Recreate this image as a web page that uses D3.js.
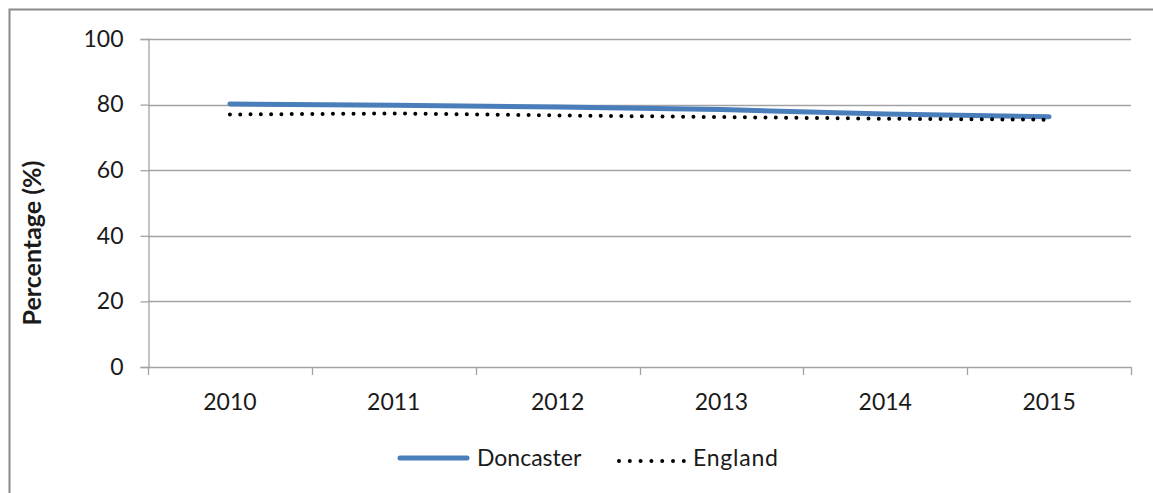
<!DOCTYPE html>
<html>
<head>
<meta charset="utf-8">
<script src="https://cdn.jsdelivr.net/npm/d3@7"></script>
<style>
  html, body { margin: 0; padding: 0; background: #fff; }
  svg { display: block; }
  text { font-family: Lato, "Open Sans", "Liberation Sans", sans-serif; fill: #1a1a1a; }
</style>
</head>
<body>
<svg id="chart" width="1153" height="493"></svg>
<script>
// Years shown on the category axis
const years = ["2010", "2011", "2012", "2013", "2014", "2015"];
// Percentage values per area
const doncaster = [80.2, 79.8, 79.3, 78.5, 77.1, 76.3];
const england = [77.0, 77.3, 76.7, 76.2, 75.7, 75.4];
// Value axis ticks
const yTicks = [0, 20, 40, 60, 80, 100];
const seriesNames = ["Doncaster", "England"];

const svg = d3.select("#chart");
const W = 1153, H = 493;
const plot = { left: 148, right: 1131, top: 39, bottom: 367 };
const axisColor = "#a3a3a3";

// Outer chart frame
svg.append("rect")
  .attr("x", 9.5).attr("y", 9.5)
  .attr("width", W + 20).attr("height", H + 20)
  .attr("fill", "#fff")
  .attr("stroke", "#8a8a8a").attr("stroke-width", 2);

const x = d3.scaleBand().domain(years).range([plot.left, plot.right]);
const y = d3.scaleLinear().domain([0, 100]).range([plot.bottom, plot.top]);
const cx = d => x(d) + x.bandwidth() / 2;

// Horizontal gridlines
svg.append("g")
  .selectAll("line")
  .data(yTicks.filter(t => t > 0))
  .join("line")
  .attr("x1", plot.left).attr("x2", plot.right)
  .attr("y1", d => Math.round(y(d)) + 0.5).attr("y2", d => Math.round(y(d)) + 0.5)
  .attr("stroke", axisColor).attr("stroke-width", 1.3);

// Value axis
const yAxis = svg.append("g")
  .attr("transform", `translate(${plot.left + 0.5},0)`)
  .call(d3.axisLeft(y).tickValues(yTicks).tickSize(8).tickPadding(17));
yAxis.select(".domain").attr("stroke", axisColor).attr("stroke-width", 1.3);
yAxis.selectAll(".tick line").attr("stroke", axisColor).attr("stroke-width", 1.3);
yAxis.selectAll(".tick text")
  .attr("font-size", 23).attr("fill", "#1a1a1a")
  .attr("font-family", "Lato, 'Open Sans', sans-serif");

// Category axis: ticks sit on the band boundaries
const bounds = years.map(d => x(d)).concat([plot.right]);
const xg = svg.append("g");
xg.append("line")
  .attr("x1", plot.left).attr("x2", plot.right)
  .attr("y1", plot.bottom + 0.5).attr("y2", plot.bottom + 0.5)
  .attr("stroke", axisColor).attr("stroke-width", 1.3);
xg.selectAll("line.tk")
  .data(bounds)
  .join("line").attr("class", "tk")
  .attr("x1", d => Math.round(d) + 0.5).attr("x2", d => Math.round(d) + 0.5)
  .attr("y1", plot.bottom).attr("y2", plot.bottom + 8)
  .attr("stroke", axisColor).attr("stroke-width", 1.3);
xg.selectAll("text")
  .data(years)
  .join("text")
  .attr("x", d => cx(d)).attr("y", 410)
  .attr("text-anchor", "middle")
  .attr("font-size", 23)
  .text(d => d);

// Axis title
svg.append("text")
  .attr("transform", `translate(41,243) rotate(-90)`)
  .attr("text-anchor", "middle")
  .attr("font-size", 25)
  .attr("font-weight", "bold")
  .text("Percentage (%)");

const line = d3.line().x((d, i) => cx(years[i])).y(d => y(d));

// Doncaster series
svg.append("path")
  .datum(doncaster)
  .attr("d", line)
  .attr("fill", "none")
  .attr("stroke", "#4a7ebb")
  .attr("stroke-width", 5)
  .attr("stroke-linecap", "round");

// England series (round dots)
svg.append("path")
  .datum(england)
  .attr("d", line)
  .attr("fill", "none")
  .attr("stroke", "#000")
  .attr("stroke-width", 4)
  .attr("stroke-linecap", "round")
  .attr("stroke-dasharray", "0 10.3");

// Legend
const legend = svg.append("g");
legend.append("line")
  .attr("x1", 400).attr("x2", 467).attr("y1", 458).attr("y2", 458)
  .attr("stroke", "#4a7ebb").attr("stroke-width", 5).attr("stroke-linecap", "round");
legend.append("text")
  .attr("x", 477).attr("y", 466).attr("font-size", 23).text(seriesNames[0]);
legend.append("line")
  .attr("x1", 619).attr("x2", 684).attr("y1", 461).attr("y2", 461)
  .attr("stroke", "#000").attr("stroke-width", 4)
  .attr("stroke-linecap", "round").attr("stroke-dasharray", "0 10.8");
legend.append("text")
  .attr("x", 693).attr("y", 466).attr("font-size", 23).attr("textLength", 85).text(seriesNames[1]);
</script>
</body>
</html>
